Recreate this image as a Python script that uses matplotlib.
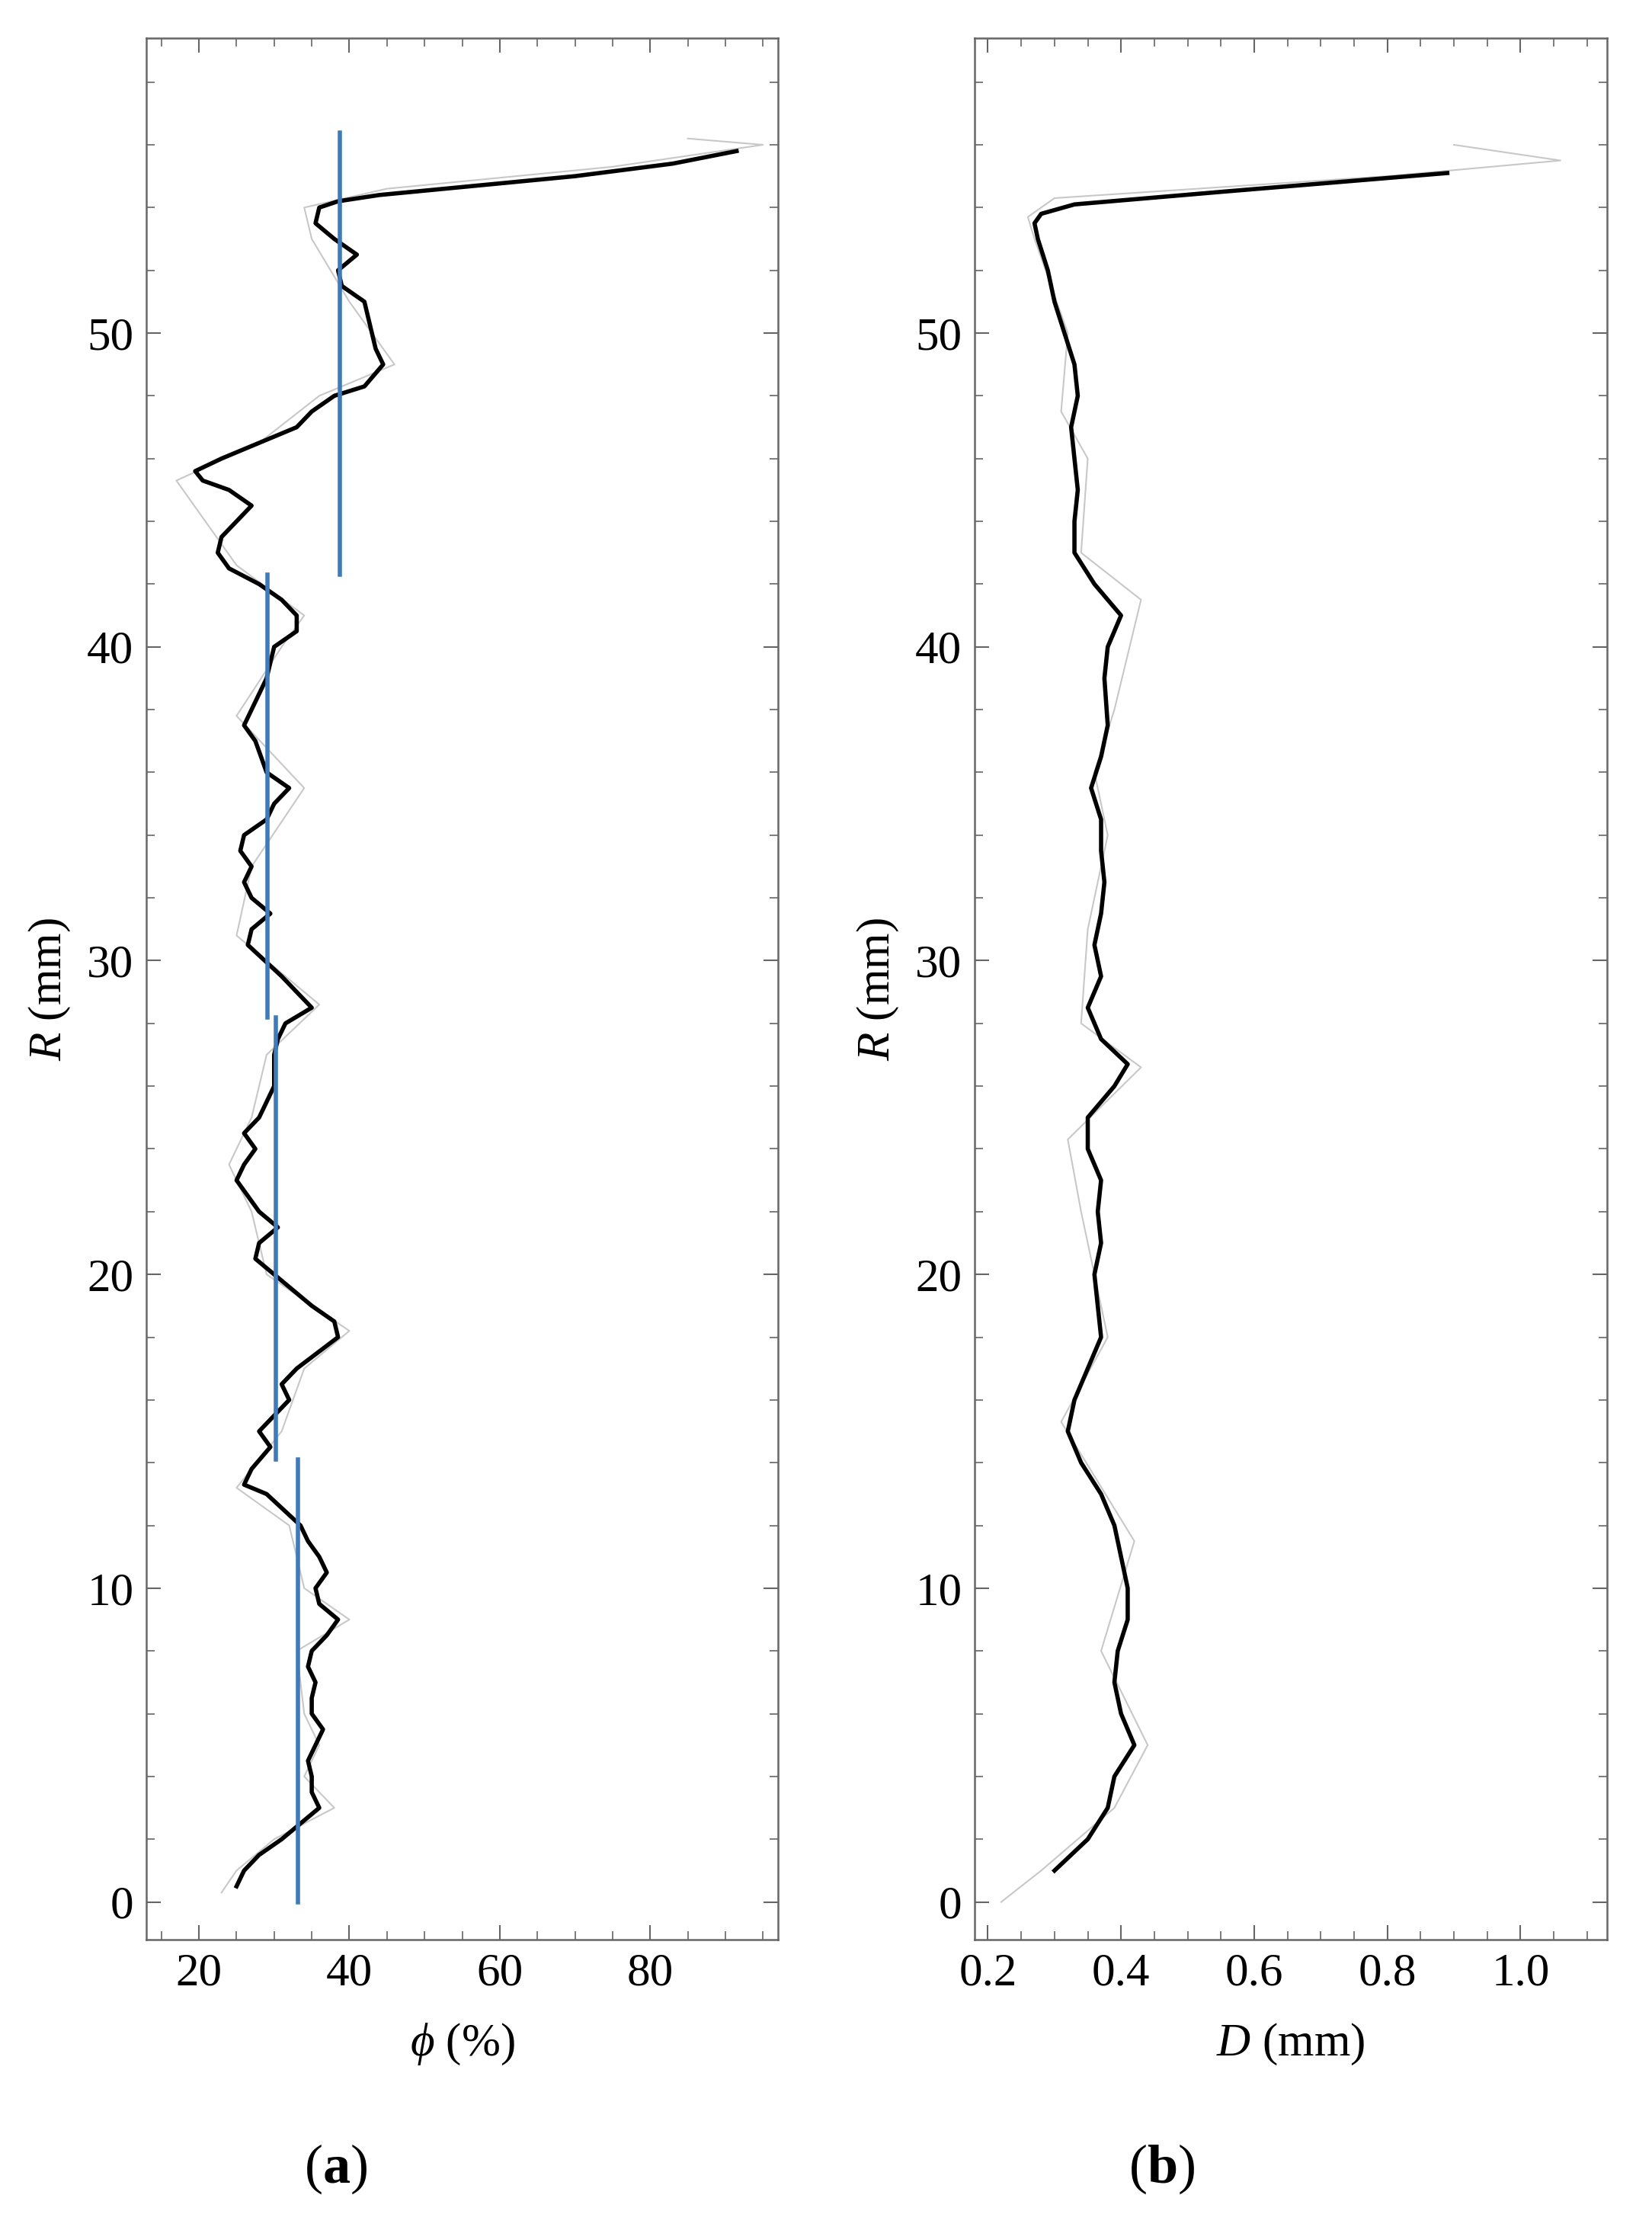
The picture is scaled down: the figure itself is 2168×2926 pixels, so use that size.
import matplotlib
matplotlib.use("Agg")
import matplotlib.pyplot as plt
from matplotlib.ticker import MultipleLocator

plt.rcParams["font.family"] = ["Liberation Serif", "DejaVu Serif"]
plt.rcParams["mathtext.fontset"] = "custom"
plt.rcParams["mathtext.rm"] = "Liberation Serif"
plt.rcParams["mathtext.it"] = "Liberation Serif:italic"
plt.rcParams["mathtext.bf"] = "Liberation Serif:bold"

# panel (a): porosity profile
r_a = [0.5, 1, 1.5, 2, 2.5, 3, 3.5, 4, 4.5, 5, 5.5, 6, 6.5, 7, 7.5, 8, 8.5, 9, 9.5, 10,
       10.5, 11, 11.5, 12, 13, 13.3, 13.8, 14.5, 15, 15.5, 16, 16.5, 17, 18, 18.5, 19, 20,
       20.5, 21, 21.5, 22, 22.5, 23, 23.5, 24, 24.5, 25, 26, 27, 27.5, 28, 28.5, 29, 29.5,
       30.5, 31, 31.5, 32, 32.5, 33, 33.5, 34, 34.5, 35, 35.5, 36, 37, 37.5, 38, 39, 40,
       40.5, 41, 41.5, 42, 42.5, 43, 43.5, 44, 44.5, 45, 45.3, 45.6, 46, 46.5, 47, 47.5,
       48, 48.3, 49, 49.5, 50, 51, 51.5, 52, 52.5, 53, 53.5, 54, 54.2, 54.4, 54.7, 55, 55.4,
       55.8]
phi = [25, 26, 28, 31, 33.5, 36, 35, 35, 34.5, 35.5, 36.5, 35, 35, 35.5, 34.5, 35, 37, 38.5,
       36, 35.5, 37, 36, 34.5, 33.5, 29, 26, 27, 29.5, 28, 30, 32, 31, 33, 38.5, 38, 35, 30,
       27.5, 28, 30.5, 28, 26.5, 25, 26, 27.5, 26, 28, 30, 30, 30.5, 31.5, 35, 33, 31, 26.5,
       27, 29.5, 27, 26, 27, 25.5, 26, 29, 30, 32, 29, 27.5, 26, 27, 29, 30, 33, 33, 31, 28,
       24, 22.5, 23, 25, 27, 24, 20.5, 19.5, 23, 28, 33, 35, 38, 42, 44.5, 43.5, 43, 42, 39,
       38.5, 41, 38, 35.5, 36, 38.5, 44, 57, 70, 83, 91.5]
# lighter individual profiles
r_a_grey = [0.3, 1, 2, 3, 4, 5, 6, 8, 9, 10, 12, 13.2, 15, 17, 18.2, 20, 22, 23.5, 25, 27, 28.6,
            30.8, 33, 35.5, 37.8, 40, 41, 42.6, 45.3, 46.5, 48, 49, 51, 53, 54, 54.6, 55.3, 56, 56.2]
phi_grey = [23, 25, 30, 38, 34, 36, 34, 33, 40, 34, 32, 25, 31, 34, 40, 29, 27, 24, 27, 29, 36,
            25, 27, 34, 25, 31, 34, 25, 17, 28, 36, 46, 40, 35, 34, 45, 75, 95, 85]
a_means_phi = [38.7, 29.1, 30.2, 33.2]
a_means_lo = [42.3, 28.2, 14.1, 0.0]
a_means_hi = [56.4, 42.3, 28.2, 14.1]

# panel (b): grain size profile
r_b = [1, 2, 3, 4, 5, 6, 7, 8, 9, 10, 11, 12, 13, 14, 15, 16, 17, 18, 19, 20, 21, 22, 23, 24,
       25, 26, 26.7, 27.5, 28.5, 29.5, 30.5, 31.5, 32.5, 33.5, 34.5, 35.5, 36.5, 37.5, 39, 40,
       41, 42, 43, 44, 45, 46, 47, 48, 49, 50, 51, 52, 53, 53.5, 53.8, 54.1, 54.5, 55.1]
dia = [0.30, 0.35, 0.38, 0.39, 0.42, 0.40, 0.39, 0.395, 0.41, 0.41, 0.40, 0.39, 0.37, 0.34,
       0.32, 0.33, 0.35, 0.37, 0.365, 0.36, 0.37, 0.365, 0.37, 0.35, 0.35, 0.39, 0.41, 0.37,
       0.35, 0.37, 0.36, 0.37, 0.375, 0.37, 0.37, 0.355, 0.37, 0.38, 0.375, 0.38, 0.40, 0.36,
       0.33, 0.33, 0.335, 0.33, 0.325, 0.335, 0.33, 0.315, 0.30, 0.29, 0.275, 0.27, 0.28, 0.33,
       0.55, 0.89]
r_b_grey = [0.0, 1, 3, 5, 8, 11.5, 15.3, 18, 22, 24.3, 26.6, 28, 31, 34, 36, 38, 41.5, 43,
            46, 47.5, 50, 53, 53.7, 54.3, 55, 55.5, 56]
dia_grey = [0.22, 0.28, 0.39, 0.44, 0.37, 0.42, 0.31, 0.38, 0.34, 0.32, 0.43, 0.34, 0.35, 0.38,
            0.36, 0.39, 0.43, 0.34, 0.35, 0.31, 0.32, 0.27, 0.26, 0.30, 0.80, 1.06, 0.90]

fig = plt.figure(figsize=(21.68, 29.26), dpi=100)
ax_a = fig.add_axes([192 / 2168, 1 - 2545 / 2926, 829 / 2168, 2495 / 2926])
ax_b = fig.add_axes([1279 / 2168, 1 - 2545 / 2926, 830 / 2168, 2495 / 2926])

ax_a.plot(phi_grey, r_a_grey, color="#c8c8c8", lw=1.5)
ax_a.plot(phi, r_a, color="black", lw=4)
for p, lo, hi in zip(a_means_phi, a_means_lo, a_means_hi):
    ax_a.plot([p, p], [lo, hi], color="#3f7ab9", lw=4)
ax_a.set_xlim(13, 97)
ax_a.xaxis.set_major_locator(MultipleLocator(20))
ax_a.xaxis.set_minor_locator(MultipleLocator(5))
ax_a.set_xlabel(r"$\phi$ (%)", fontsize=44, labelpad=26)

ax_b.plot(dia_grey, r_b_grey, color="#c8c8c8", lw=1.5)
ax_b.plot(dia, r_b, color="black", lw=4)
ax_b.set_xlim(0.18, 1.13)
ax_b.xaxis.set_major_locator(MultipleLocator(0.2))
ax_b.xaxis.set_minor_locator(MultipleLocator(0.05))
ax_b.xaxis.set_major_formatter(lambda v, pos: f"{v:.1f}")
ax_b.set_xlabel(r"$D$ (mm)", fontsize=44, labelpad=26)

for ax in (ax_a, ax_b):
    ax.set_ylim(-1.2, 59.4)
    ax.yaxis.set_major_locator(MultipleLocator(10))
    ax.yaxis.set_minor_locator(MultipleLocator(2))
    ax.set_ylabel(r"$R$ (mm)", fontsize=44, labelpad=14)
    ax.tick_params(which="both", direction="in", top=True, right=True,
                   labelsize=44, color="#666666", pad=12)
    ax.tick_params(which="major", length=14, width=1.5)
    ax.tick_params(which="minor", length=8, width=1.2)
    for s in ax.spines.values():
        s.set_color("#666666")
        s.set_linewidth(1.8)

fig.text(441 / 2168, 1 - 2846 / 2926, r"($\mathbf{a}$)", fontsize=52, ha="center", va="center")
fig.text(1525 / 2168, 1 - 2846 / 2926, r"($\mathbf{b}$)", fontsize=52, ha="center", va="center")

fig.savefig("out.png", dpi=100)
